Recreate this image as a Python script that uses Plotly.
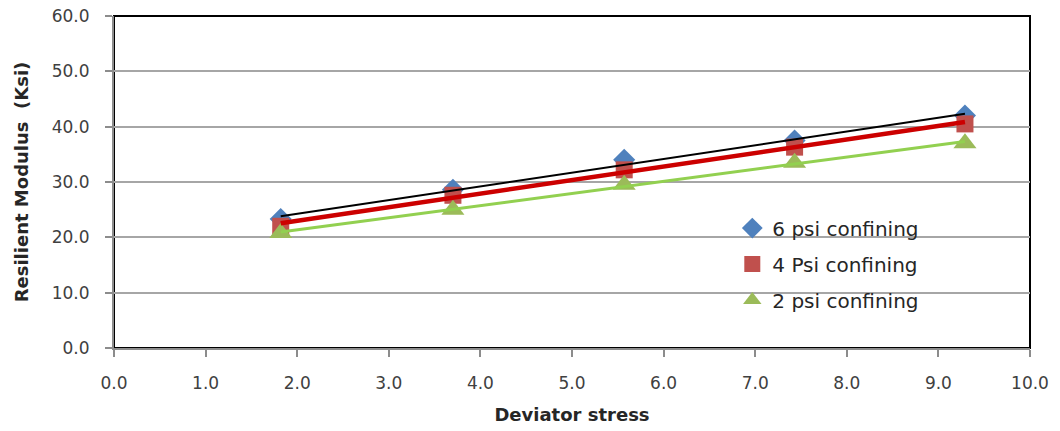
import numpy as np
import plotly.graph_objects as go

deviator_stress = [1.82, 3.70, 5.57, 7.43, 9.29]
mr_6psi = [23.3, 28.6, 34.0, 37.5, 42.0]
mr_4psi = [22.0, 27.6, 32.2, 36.3, 40.5]
mr_2psi = [20.8, 25.0, 29.5, 33.5, 37.0]
x_ticks = [0, 1, 2, 3, 4, 5, 6, 7, 8, 9, 10]
y_ticks = [0, 10, 20, 30, 40, 50, 60]

FONT = "DejaVu Sans"
x = np.array(deviator_stress)

fig = go.Figure()

series = [
    ("6 psi confining", mr_6psi, "diamond", "#4F81BD", 17, "#000000", 2),
    ("4 Psi confining", mr_4psi, "square", "#C0504D", 17, "#CC0000", 4.5),
    ("2 psi confining", mr_2psi, "triangle-up", "#9BBB59", 20, "#92D050", 3),
]

# markers
for name, vals, sym, col, sz, lcol, lw in series:
    fig.add_trace(go.Scatter(
        x=deviator_stress, y=vals, mode="markers", name=name,
        legendgroup=name,
        marker=dict(symbol=sym, color=col, size=sz, line=dict(width=0)),
    ))

# linear trendlines
for name, vals, sym, col, sz, lcol, lw in series:
    k, b = np.polyfit(x, np.array(vals), 1)
    fig.add_trace(go.Scatter(
        x=[x.min(), x.max()], y=[k * x.min() + b, k * x.max() + b],
        mode="lines", showlegend=False, hoverinfo="skip",
        line=dict(color=lcol, width=lw),
    ))

fig.add_shape(type="rect", xref="paper", yref="paper", x0=0, y0=0, x1=1, y1=1,
              line=dict(color="black", width=2), layer="below")

fig.update_layout(
    width=1060, height=431,
    margin=dict(l=114, r=30, t=16, b=83, autoexpand=False),
    paper_bgcolor="white", plot_bgcolor="white",
    font=dict(family=FONT, color="#404040"),
    legend=dict(x=0.675, y=0.42, xanchor="left", yanchor="top",
                bgcolor="rgba(0,0,0,0)", font=dict(size=20, color="#262626"),
                traceorder="grouped", tracegroupgap=7),
    xaxis=dict(range=[0, 10], tickvals=x_ticks, ticktext=[f"{v:.1f}" for v in x_ticks],
               automargin=False,
               showgrid=False, zeroline=False, showline=True, linecolor="#8C8C8C",
               linewidth=2, ticks="outside", ticklen=7, tickcolor="#8C8C8C", tickwidth=2,
               tickfont=dict(size=17, color="#404040"), ticklabelstandoff=12,
               title=dict(text="<b>Deviator stress</b>", font=dict(size=18, color="#262626"),
                          standoff=16)),
    yaxis=dict(range=[0, 60], tickvals=y_ticks, ticktext=[f"{v:.1f}" for v in y_ticks],
               automargin=False,
               showgrid=True, gridcolor="#A6A6A6", gridwidth=2, zeroline=False,
               showline=True, linecolor="#8C8C8C", linewidth=2, ticks="outside",
               ticklen=7, tickcolor="#8C8C8C", tickwidth=2,
               tickfont=dict(size=17, color="#404040"), ticklabelstandoff=12,
               title=dict(text="<b>Resilient Modulus  (Ksi)</b>",
                          font=dict(size=18, color="#262626"), standoff=18)),
)

fig.write_html("out.html", config={"displayModeBar": False},
               post_script="document.body.style.margin='0px';")
